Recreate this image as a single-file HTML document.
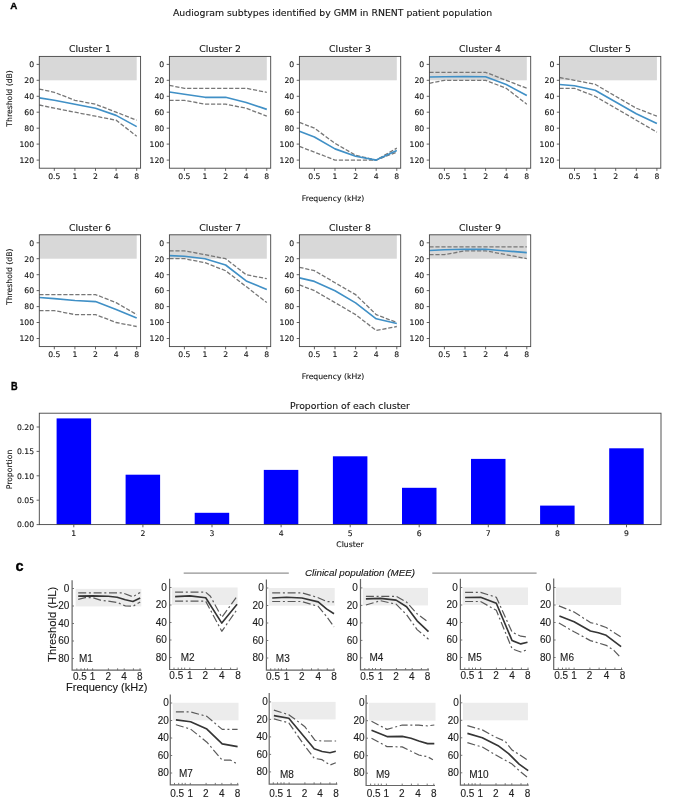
<!DOCTYPE html>
<html lang="en"><head><meta charset="utf-8"><title>Audiogram subtypes</title>
<style>html,body{margin:0;padding:0;background:#fff}svg{display:block}</style></head><body>
<svg width="685" height="803" viewBox="0 0 685 803">
<defs><filter id="soft" x="0" y="0" width="685" height="803" filterUnits="userSpaceOnUse"><feGaussianBlur stdDeviation="0.65"/></filter></defs>
<rect width="685" height="803" fill="#fff"/>
<g filter="url(#soft)">
<text x="10.3" y="8.9" font-family='"Liberation Sans", "DejaVu Sans", sans-serif' font-weight="bold" font-size="9.8" fill="#000" stroke="#000" stroke-width="0.35">A</text>
<text x="332.6" y="15.6" text-anchor="middle" font-family='"DejaVu Sans", "Liberation Sans", sans-serif' font-size="9.33" fill="#151515" stroke="#151515" stroke-width="0.12">Audiogram subtypes identified by GMM in RNENT patient population</text>
<g>
<rect x="39.3" y="56.4" width="97.4" height="23.9" fill="#d8d8d8"/>
<polyline points="39.3,89.1 54.3,92.3 74.9,100.3 95.5,104.2 116.1,112.2 136.7,120.2" fill="none" stroke="#777" stroke-width="1.3" stroke-dasharray="4.2 1.8"/>
<polyline points="39.3,105.0 54.3,108.2 74.9,112.2 95.5,116.2 116.1,120.2 136.7,136.2" fill="none" stroke="#777" stroke-width="1.3" stroke-dasharray="4.2 1.8"/>
<polyline points="39.3,97.9 54.3,100.3 74.9,104.2 95.5,108.2 116.1,115.4 136.7,126.6" fill="none" stroke="#4090c6" stroke-width="1.65" stroke-linejoin="round"/>
<rect x="39.3" y="56.4" width="101.3" height="111.8" fill="none" stroke="#444" stroke-width="0.9"/>
<path d="M39.3 64.4h-2.7M39.3 80.3h-2.7M39.3 96.3h-2.7M39.3 112.2h-2.7M39.3 128.2h-2.7M39.3 144.1h-2.7M39.3 160.1h-2.7M54.3 168.2v2.7M74.9 168.2v2.7M95.5 168.2v2.7M116.1 168.2v2.7M136.7 168.2v2.7" stroke="#444" stroke-width="0.85" fill="none"/>
<g font-family='"DejaVu Sans", "Liberation Sans", sans-serif' font-size="7.7" fill="#151515" stroke="#151515" stroke-width="0.12">
<text x="34.1" y="67.2" text-anchor="end">0</text>
<text x="34.1" y="83.1" text-anchor="end">20</text>
<text x="34.1" y="99.1" text-anchor="end">40</text>
<text x="34.1" y="115.0" text-anchor="end">60</text>
<text x="34.1" y="131.0" text-anchor="end">80</text>
<text x="34.1" y="146.9" text-anchor="end">100</text>
<text x="34.1" y="162.9" text-anchor="end">120</text>
<text x="54.3" y="179.0" text-anchor="middle">0.5</text>
<text x="74.9" y="179.0" text-anchor="middle">1</text>
<text x="95.5" y="179.0" text-anchor="middle">2</text>
<text x="116.1" y="179.0" text-anchor="middle">4</text>
<text x="136.7" y="179.0" text-anchor="middle">8</text>
</g>
<text x="89.9" y="52.2" text-anchor="middle" font-family='"DejaVu Sans", "Liberation Sans", sans-serif' font-size="9.3" fill="#151515" stroke="#151515" stroke-width="0.12">Cluster 1</text>
<text transform="translate(12.2 98.4) rotate(-90)" text-anchor="middle" font-family='"DejaVu Sans", "Liberation Sans", sans-serif' font-size="7.7" fill="#151515" stroke="#151515" stroke-width="0.12">Threshold (dB)</text>
</g>
<g>
<rect x="169.4" y="56.4" width="97.4" height="23.9" fill="#d8d8d8"/>
<polyline points="169.4,85.4 184.4,88.3 205.0,88.3 225.6,88.3 246.2,88.3 266.8,92.3" fill="none" stroke="#777" stroke-width="1.3" stroke-dasharray="4.2 1.8"/>
<polyline points="169.4,100.3 184.4,100.3 205.0,104.2 225.6,104.2 246.2,108.2 266.8,116.2" fill="none" stroke="#777" stroke-width="1.3" stroke-dasharray="4.2 1.8"/>
<polyline points="169.4,92.0 184.4,94.3 205.0,97.3 225.6,97.3 246.2,102.5 266.8,109.4" fill="none" stroke="#4090c6" stroke-width="1.65" stroke-linejoin="round"/>
<rect x="169.4" y="56.4" width="101.3" height="111.8" fill="none" stroke="#444" stroke-width="0.9"/>
<path d="M169.4 64.4h-2.7M169.4 80.3h-2.7M169.4 96.3h-2.7M169.4 112.2h-2.7M169.4 128.2h-2.7M169.4 144.1h-2.7M169.4 160.1h-2.7M184.4 168.2v2.7M205.0 168.2v2.7M225.6 168.2v2.7M246.2 168.2v2.7M266.8 168.2v2.7" stroke="#444" stroke-width="0.85" fill="none"/>
<g font-family='"DejaVu Sans", "Liberation Sans", sans-serif' font-size="7.7" fill="#151515" stroke="#151515" stroke-width="0.12">
<text x="164.2" y="67.2" text-anchor="end">0</text>
<text x="164.2" y="83.1" text-anchor="end">20</text>
<text x="164.2" y="99.1" text-anchor="end">40</text>
<text x="164.2" y="115.0" text-anchor="end">60</text>
<text x="164.2" y="131.0" text-anchor="end">80</text>
<text x="164.2" y="146.9" text-anchor="end">100</text>
<text x="164.2" y="162.9" text-anchor="end">120</text>
<text x="184.4" y="179.0" text-anchor="middle">0.5</text>
<text x="205.0" y="179.0" text-anchor="middle">1</text>
<text x="225.6" y="179.0" text-anchor="middle">2</text>
<text x="246.2" y="179.0" text-anchor="middle">4</text>
<text x="266.8" y="179.0" text-anchor="middle">8</text>
</g>
<text x="220.1" y="52.2" text-anchor="middle" font-family='"DejaVu Sans", "Liberation Sans", sans-serif' font-size="9.3" fill="#151515" stroke="#151515" stroke-width="0.12">Cluster 2</text>
</g>
<g>
<rect x="299.4" y="56.4" width="97.4" height="23.9" fill="#d8d8d8"/>
<polyline points="299.4,122.4 314.4,128.2 335.0,143.3 355.6,155.3 376.2,160.1 396.8,148.1" fill="none" stroke="#777" stroke-width="1.3" stroke-dasharray="4.2 1.8"/>
<polyline points="299.4,146.4 314.4,152.1 335.0,160.1 355.6,160.1 376.2,160.1 396.8,152.1" fill="none" stroke="#777" stroke-width="1.3" stroke-dasharray="4.2 1.8"/>
<polyline points="299.4,131.2 314.4,137.0 335.0,148.9 355.6,156.3 376.2,160.1 396.8,150.5" fill="none" stroke="#4090c6" stroke-width="1.65" stroke-linejoin="round"/>
<rect x="299.4" y="56.4" width="101.3" height="111.8" fill="none" stroke="#444" stroke-width="0.9"/>
<path d="M299.4 64.4h-2.7M299.4 80.3h-2.7M299.4 96.3h-2.7M299.4 112.2h-2.7M299.4 128.2h-2.7M299.4 144.1h-2.7M299.4 160.1h-2.7M314.4 168.2v2.7M335.0 168.2v2.7M355.6 168.2v2.7M376.2 168.2v2.7M396.8 168.2v2.7" stroke="#444" stroke-width="0.85" fill="none"/>
<g font-family='"DejaVu Sans", "Liberation Sans", sans-serif' font-size="7.7" fill="#151515" stroke="#151515" stroke-width="0.12">
<text x="294.2" y="67.2" text-anchor="end">0</text>
<text x="294.2" y="83.1" text-anchor="end">20</text>
<text x="294.2" y="99.1" text-anchor="end">40</text>
<text x="294.2" y="115.0" text-anchor="end">60</text>
<text x="294.2" y="131.0" text-anchor="end">80</text>
<text x="294.2" y="146.9" text-anchor="end">100</text>
<text x="294.2" y="162.9" text-anchor="end">120</text>
<text x="314.4" y="179.0" text-anchor="middle">0.5</text>
<text x="335.0" y="179.0" text-anchor="middle">1</text>
<text x="355.6" y="179.0" text-anchor="middle">2</text>
<text x="376.2" y="179.0" text-anchor="middle">4</text>
<text x="396.8" y="179.0" text-anchor="middle">8</text>
</g>
<text x="350.0" y="52.2" text-anchor="middle" font-family='"DejaVu Sans", "Liberation Sans", sans-serif' font-size="9.3" fill="#151515" stroke="#151515" stroke-width="0.12">Cluster 3</text>
<text x="333" y="200.7" text-anchor="middle" font-family='"DejaVu Sans", "Liberation Sans", sans-serif' font-size="7.7" fill="#151515" stroke="#151515" stroke-width="0.12">Frequency (kHz)</text>
</g>
<g>
<rect x="429.4" y="56.4" width="97.4" height="23.9" fill="#d8d8d8"/>
<polyline points="429.4,72.3 444.4,72.3 465.0,72.3 485.6,72.3 506.2,80.3 526.8,88.3" fill="none" stroke="#777" stroke-width="1.3" stroke-dasharray="4.2 1.8"/>
<polyline points="429.4,83.3 444.4,80.3 465.0,80.3 485.6,80.3 506.2,88.3 526.8,104.2" fill="none" stroke="#777" stroke-width="1.3" stroke-dasharray="4.2 1.8"/>
<polyline points="429.4,77.0 444.4,76.7 465.0,76.6 485.6,76.7 506.2,84.5 526.8,95.5" fill="none" stroke="#4090c6" stroke-width="1.65" stroke-linejoin="round"/>
<rect x="429.4" y="56.4" width="101.3" height="111.8" fill="none" stroke="#444" stroke-width="0.9"/>
<path d="M429.4 64.4h-2.7M429.4 80.3h-2.7M429.4 96.3h-2.7M429.4 112.2h-2.7M429.4 128.2h-2.7M429.4 144.1h-2.7M429.4 160.1h-2.7M444.4 168.2v2.7M465.0 168.2v2.7M485.6 168.2v2.7M506.2 168.2v2.7M526.8 168.2v2.7" stroke="#444" stroke-width="0.85" fill="none"/>
<g font-family='"DejaVu Sans", "Liberation Sans", sans-serif' font-size="7.7" fill="#151515" stroke="#151515" stroke-width="0.12">
<text x="424.2" y="67.2" text-anchor="end">0</text>
<text x="424.2" y="83.1" text-anchor="end">20</text>
<text x="424.2" y="99.1" text-anchor="end">40</text>
<text x="424.2" y="115.0" text-anchor="end">60</text>
<text x="424.2" y="131.0" text-anchor="end">80</text>
<text x="424.2" y="146.9" text-anchor="end">100</text>
<text x="424.2" y="162.9" text-anchor="end">120</text>
<text x="444.4" y="179.0" text-anchor="middle">0.5</text>
<text x="465.0" y="179.0" text-anchor="middle">1</text>
<text x="485.6" y="179.0" text-anchor="middle">2</text>
<text x="506.2" y="179.0" text-anchor="middle">4</text>
<text x="526.8" y="179.0" text-anchor="middle">8</text>
</g>
<text x="480.0" y="52.2" text-anchor="middle" font-family='"DejaVu Sans", "Liberation Sans", sans-serif' font-size="9.3" fill="#151515" stroke="#151515" stroke-width="0.12">Cluster 4</text>
</g>
<g>
<rect x="559.5" y="56.4" width="97.4" height="23.9" fill="#d8d8d8"/>
<polyline points="559.5,77.5 574.5,80.3 595.1,84.3 615.7,96.3 636.3,108.2 656.9,116.2" fill="none" stroke="#777" stroke-width="1.3" stroke-dasharray="4.2 1.8"/>
<polyline points="559.5,88.3 574.5,88.3 595.1,96.3 615.7,108.2 636.3,120.2 656.9,132.2" fill="none" stroke="#777" stroke-width="1.3" stroke-dasharray="4.2 1.8"/>
<polyline points="559.5,84.5 574.5,85.7 595.1,90.3 615.7,102.0 636.3,113.7 656.9,123.5" fill="none" stroke="#4090c6" stroke-width="1.65" stroke-linejoin="round"/>
<rect x="559.5" y="56.4" width="101.3" height="111.8" fill="none" stroke="#444" stroke-width="0.9"/>
<path d="M559.5 64.4h-2.7M559.5 80.3h-2.7M559.5 96.3h-2.7M559.5 112.2h-2.7M559.5 128.2h-2.7M559.5 144.1h-2.7M559.5 160.1h-2.7M574.5 168.2v2.7M595.1 168.2v2.7M615.7 168.2v2.7M636.3 168.2v2.7M656.9 168.2v2.7" stroke="#444" stroke-width="0.85" fill="none"/>
<g font-family='"DejaVu Sans", "Liberation Sans", sans-serif' font-size="7.7" fill="#151515" stroke="#151515" stroke-width="0.12">
<text x="554.3" y="67.2" text-anchor="end">0</text>
<text x="554.3" y="83.1" text-anchor="end">20</text>
<text x="554.3" y="99.1" text-anchor="end">40</text>
<text x="554.3" y="115.0" text-anchor="end">60</text>
<text x="554.3" y="131.0" text-anchor="end">80</text>
<text x="554.3" y="146.9" text-anchor="end">100</text>
<text x="554.3" y="162.9" text-anchor="end">120</text>
<text x="574.5" y="179.0" text-anchor="middle">0.5</text>
<text x="595.1" y="179.0" text-anchor="middle">1</text>
<text x="615.7" y="179.0" text-anchor="middle">2</text>
<text x="636.3" y="179.0" text-anchor="middle">4</text>
<text x="656.9" y="179.0" text-anchor="middle">8</text>
</g>
<text x="610.1" y="52.2" text-anchor="middle" font-family='"DejaVu Sans", "Liberation Sans", sans-serif' font-size="9.3" fill="#151515" stroke="#151515" stroke-width="0.12">Cluster 5</text>
</g>
<g>
<rect x="39.3" y="234.8" width="97.4" height="23.9" fill="#d8d8d8"/>
<polyline points="39.3,294.6 54.3,294.6 74.9,294.6 95.5,294.6 116.1,302.6 136.7,314.6" fill="none" stroke="#777" stroke-width="1.3" stroke-dasharray="4.2 1.8"/>
<polyline points="39.3,310.6 54.3,310.6 74.9,314.6 95.5,314.6 116.1,322.5 136.7,326.5" fill="none" stroke="#777" stroke-width="1.3" stroke-dasharray="4.2 1.8"/>
<polyline points="39.3,297.5 54.3,298.6 74.9,300.5 95.5,301.6 116.1,309.4 136.7,318.0" fill="none" stroke="#4090c6" stroke-width="1.65" stroke-linejoin="round"/>
<rect x="39.3" y="234.8" width="101.3" height="111.8" fill="none" stroke="#444" stroke-width="0.9"/>
<path d="M39.3 242.8h-2.7M39.3 258.7h-2.7M39.3 274.7h-2.7M39.3 290.6h-2.7M39.3 306.6h-2.7M39.3 322.5h-2.7M39.3 338.5h-2.7M54.3 346.6v2.7M74.9 346.6v2.7M95.5 346.6v2.7M116.1 346.6v2.7M136.7 346.6v2.7" stroke="#444" stroke-width="0.85" fill="none"/>
<g font-family='"DejaVu Sans", "Liberation Sans", sans-serif' font-size="7.7" fill="#151515" stroke="#151515" stroke-width="0.12">
<text x="34.1" y="245.6" text-anchor="end">0</text>
<text x="34.1" y="261.5" text-anchor="end">20</text>
<text x="34.1" y="277.5" text-anchor="end">40</text>
<text x="34.1" y="293.4" text-anchor="end">60</text>
<text x="34.1" y="309.4" text-anchor="end">80</text>
<text x="34.1" y="325.3" text-anchor="end">100</text>
<text x="34.1" y="341.3" text-anchor="end">120</text>
<text x="54.3" y="357.4" text-anchor="middle">0.5</text>
<text x="74.9" y="357.4" text-anchor="middle">1</text>
<text x="95.5" y="357.4" text-anchor="middle">2</text>
<text x="116.1" y="357.4" text-anchor="middle">4</text>
<text x="136.7" y="357.4" text-anchor="middle">8</text>
</g>
<text x="89.9" y="230.6" text-anchor="middle" font-family='"DejaVu Sans", "Liberation Sans", sans-serif' font-size="9.3" fill="#151515" stroke="#151515" stroke-width="0.12">Cluster 6</text>
<text transform="translate(12.2 276.8) rotate(-90)" text-anchor="middle" font-family='"DejaVu Sans", "Liberation Sans", sans-serif' font-size="7.7" fill="#151515" stroke="#151515" stroke-width="0.12">Threshold (dB)</text>
</g>
<g>
<rect x="169.4" y="234.8" width="97.4" height="23.9" fill="#d8d8d8"/>
<polyline points="169.4,250.8 184.4,250.8 205.0,254.7 225.6,258.7 246.2,274.7 266.8,278.7" fill="none" stroke="#777" stroke-width="1.3" stroke-dasharray="4.2 1.8"/>
<polyline points="169.4,258.7 184.4,258.7 205.0,262.7 225.6,270.7 246.2,286.6 266.8,302.6" fill="none" stroke="#777" stroke-width="1.3" stroke-dasharray="4.2 1.8"/>
<polyline points="169.4,255.6 184.4,256.3 205.0,258.7 225.6,265.0 246.2,280.9 266.8,289.6" fill="none" stroke="#4090c6" stroke-width="1.65" stroke-linejoin="round"/>
<rect x="169.4" y="234.8" width="101.3" height="111.8" fill="none" stroke="#444" stroke-width="0.9"/>
<path d="M169.4 242.8h-2.7M169.4 258.7h-2.7M169.4 274.7h-2.7M169.4 290.6h-2.7M169.4 306.6h-2.7M169.4 322.5h-2.7M169.4 338.5h-2.7M184.4 346.6v2.7M205.0 346.6v2.7M225.6 346.6v2.7M246.2 346.6v2.7M266.8 346.6v2.7" stroke="#444" stroke-width="0.85" fill="none"/>
<g font-family='"DejaVu Sans", "Liberation Sans", sans-serif' font-size="7.7" fill="#151515" stroke="#151515" stroke-width="0.12">
<text x="164.2" y="245.6" text-anchor="end">0</text>
<text x="164.2" y="261.5" text-anchor="end">20</text>
<text x="164.2" y="277.5" text-anchor="end">40</text>
<text x="164.2" y="293.4" text-anchor="end">60</text>
<text x="164.2" y="309.4" text-anchor="end">80</text>
<text x="164.2" y="325.3" text-anchor="end">100</text>
<text x="164.2" y="341.3" text-anchor="end">120</text>
<text x="184.4" y="357.4" text-anchor="middle">0.5</text>
<text x="205.0" y="357.4" text-anchor="middle">1</text>
<text x="225.6" y="357.4" text-anchor="middle">2</text>
<text x="246.2" y="357.4" text-anchor="middle">4</text>
<text x="266.8" y="357.4" text-anchor="middle">8</text>
</g>
<text x="220.1" y="230.6" text-anchor="middle" font-family='"DejaVu Sans", "Liberation Sans", sans-serif' font-size="9.3" fill="#151515" stroke="#151515" stroke-width="0.12">Cluster 7</text>
</g>
<g>
<rect x="299.4" y="234.8" width="97.4" height="23.9" fill="#d8d8d8"/>
<polyline points="299.4,267.3 314.4,270.7 335.0,282.7 355.6,294.6 376.2,314.6 396.8,322.5" fill="none" stroke="#777" stroke-width="1.3" stroke-dasharray="4.2 1.8"/>
<polyline points="299.4,284.9 314.4,290.6 335.0,302.6 355.6,314.6 376.2,330.5 396.8,326.5" fill="none" stroke="#777" stroke-width="1.3" stroke-dasharray="4.2 1.8"/>
<polyline points="299.4,277.9 314.4,281.4 335.0,290.7 355.6,302.9 376.2,318.8 396.8,323.5" fill="none" stroke="#4090c6" stroke-width="1.65" stroke-linejoin="round"/>
<rect x="299.4" y="234.8" width="101.3" height="111.8" fill="none" stroke="#444" stroke-width="0.9"/>
<path d="M299.4 242.8h-2.7M299.4 258.7h-2.7M299.4 274.7h-2.7M299.4 290.6h-2.7M299.4 306.6h-2.7M299.4 322.5h-2.7M299.4 338.5h-2.7M314.4 346.6v2.7M335.0 346.6v2.7M355.6 346.6v2.7M376.2 346.6v2.7M396.8 346.6v2.7" stroke="#444" stroke-width="0.85" fill="none"/>
<g font-family='"DejaVu Sans", "Liberation Sans", sans-serif' font-size="7.7" fill="#151515" stroke="#151515" stroke-width="0.12">
<text x="294.2" y="245.6" text-anchor="end">0</text>
<text x="294.2" y="261.5" text-anchor="end">20</text>
<text x="294.2" y="277.5" text-anchor="end">40</text>
<text x="294.2" y="293.4" text-anchor="end">60</text>
<text x="294.2" y="309.4" text-anchor="end">80</text>
<text x="294.2" y="325.3" text-anchor="end">100</text>
<text x="294.2" y="341.3" text-anchor="end">120</text>
<text x="314.4" y="357.4" text-anchor="middle">0.5</text>
<text x="335.0" y="357.4" text-anchor="middle">1</text>
<text x="355.6" y="357.4" text-anchor="middle">2</text>
<text x="376.2" y="357.4" text-anchor="middle">4</text>
<text x="396.8" y="357.4" text-anchor="middle">8</text>
</g>
<text x="350.0" y="230.6" text-anchor="middle" font-family='"DejaVu Sans", "Liberation Sans", sans-serif' font-size="9.3" fill="#151515" stroke="#151515" stroke-width="0.12">Cluster 8</text>
<text x="333" y="379.1" text-anchor="middle" font-family='"DejaVu Sans", "Liberation Sans", sans-serif' font-size="7.7" fill="#151515" stroke="#151515" stroke-width="0.12">Frequency (kHz)</text>
</g>
<g>
<rect x="429.4" y="234.8" width="97.4" height="23.9" fill="#d8d8d8"/>
<polyline points="429.4,246.8 444.4,246.8 465.0,246.8 485.6,246.8 506.2,246.8 526.8,246.8" fill="none" stroke="#777" stroke-width="1.3" stroke-dasharray="4.2 1.8"/>
<polyline points="429.4,254.7 444.4,254.7 465.0,250.8 485.6,250.8 506.2,254.7 526.8,258.7" fill="none" stroke="#777" stroke-width="1.3" stroke-dasharray="4.2 1.8"/>
<polyline points="429.4,250.5 444.4,249.8 465.0,249.3 485.6,249.3 506.2,251.0 526.8,252.6" fill="none" stroke="#4090c6" stroke-width="1.65" stroke-linejoin="round"/>
<rect x="429.4" y="234.8" width="101.3" height="111.8" fill="none" stroke="#444" stroke-width="0.9"/>
<path d="M429.4 242.8h-2.7M429.4 258.7h-2.7M429.4 274.7h-2.7M429.4 290.6h-2.7M429.4 306.6h-2.7M429.4 322.5h-2.7M429.4 338.5h-2.7M444.4 346.6v2.7M465.0 346.6v2.7M485.6 346.6v2.7M506.2 346.6v2.7M526.8 346.6v2.7" stroke="#444" stroke-width="0.85" fill="none"/>
<g font-family='"DejaVu Sans", "Liberation Sans", sans-serif' font-size="7.7" fill="#151515" stroke="#151515" stroke-width="0.12">
<text x="424.2" y="245.6" text-anchor="end">0</text>
<text x="424.2" y="261.5" text-anchor="end">20</text>
<text x="424.2" y="277.5" text-anchor="end">40</text>
<text x="424.2" y="293.4" text-anchor="end">60</text>
<text x="424.2" y="309.4" text-anchor="end">80</text>
<text x="424.2" y="325.3" text-anchor="end">100</text>
<text x="424.2" y="341.3" text-anchor="end">120</text>
<text x="444.4" y="357.4" text-anchor="middle">0.5</text>
<text x="465.0" y="357.4" text-anchor="middle">1</text>
<text x="485.6" y="357.4" text-anchor="middle">2</text>
<text x="506.2" y="357.4" text-anchor="middle">4</text>
<text x="526.8" y="357.4" text-anchor="middle">8</text>
</g>
<text x="480.0" y="230.6" text-anchor="middle" font-family='"DejaVu Sans", "Liberation Sans", sans-serif' font-size="9.3" fill="#151515" stroke="#151515" stroke-width="0.12">Cluster 9</text>
</g>
<text transform="translate(10.9 389.8) scale(0.9 1)" font-family='"Liberation Sans", "DejaVu Sans", sans-serif' font-weight="bold" font-size="10.2" fill="#000" stroke="#000" stroke-width="0.35">B</text>
<g>
<rect x="56.6" y="418.4" width="34.5" height="106.2" fill="#0000fe"/>
<rect x="125.6" y="474.7" width="34.5" height="49.9" fill="#0000fe"/>
<rect x="194.7" y="512.8" width="34.5" height="11.8" fill="#0000fe"/>
<rect x="263.8" y="469.9" width="34.5" height="54.7" fill="#0000fe"/>
<rect x="332.9" y="456.3" width="34.5" height="68.3" fill="#0000fe"/>
<rect x="402.0" y="487.8" width="34.5" height="36.8" fill="#0000fe"/>
<rect x="471.0" y="458.9" width="34.5" height="65.7" fill="#0000fe"/>
<rect x="540.1" y="505.6" width="34.5" height="19.0" fill="#0000fe"/>
<rect x="609.2" y="448.3" width="34.5" height="76.3" fill="#0000fe"/>
<rect x="39.3" y="413.2" width="621.7" height="111.4" fill="none" stroke="#444" stroke-width="0.9"/>
<path d="M73.8 524.6v2.7M142.9 524.6v2.7M212.0 524.6v2.7M281.1 524.6v2.7M350.2 524.6v2.7M419.2 524.6v2.7M488.3 524.6v2.7M557.4 524.6v2.7M626.5 524.6v2.7M39.3 524.6h-2.7M39.3 500.2h-2.7M39.3 475.8h-2.7M39.3 451.4h-2.7M39.3 427.0h-2.7" stroke="#444" stroke-width="0.85" fill="none"/>
<g font-family='"DejaVu Sans", "Liberation Sans", sans-serif' font-size="7.7" fill="#151515" stroke="#151515" stroke-width="0.12">
<text x="73.8" y="536.0" text-anchor="middle">1</text>
<text x="142.9" y="536.0" text-anchor="middle">2</text>
<text x="212.0" y="536.0" text-anchor="middle">3</text>
<text x="281.1" y="536.0" text-anchor="middle">4</text>
<text x="350.2" y="536.0" text-anchor="middle">5</text>
<text x="419.2" y="536.0" text-anchor="middle">6</text>
<text x="488.3" y="536.0" text-anchor="middle">7</text>
<text x="557.4" y="536.0" text-anchor="middle">8</text>
<text x="626.5" y="536.0" text-anchor="middle">9</text>
<text x="34.1" y="527.4" text-anchor="end">0.00</text>
<text x="34.1" y="503.0" text-anchor="end">0.05</text>
<text x="34.1" y="478.6" text-anchor="end">0.10</text>
<text x="34.1" y="454.2" text-anchor="end">0.15</text>
<text x="34.1" y="429.8" text-anchor="end">0.20</text>
<text x="350" y="546.7" text-anchor="middle">Cluster</text>
<text transform="translate(12.3 469.5) rotate(-90)" text-anchor="middle">Proportion</text>
</g>
<text x="350" y="408.6" text-anchor="middle" font-family='"DejaVu Sans", "Liberation Sans", sans-serif' font-size="9.3" fill="#151515" stroke="#151515" stroke-width="0.12">Proportion of each cluster</text>
</g>
<text x="15.6" y="570.5" font-family='"Liberation Sans", "DejaVu Sans", sans-serif' font-weight="bold" font-size="14.5" fill="#000" stroke="#000" stroke-width="0.3">c</text>
<path d="M183.7 573.1H288.8M432.3 573.1H536.6" stroke="#777" stroke-width="1" fill="none"/>
<text x="305" y="576.2" font-family='"Liberation Sans", "DejaVu Sans", sans-serif' font-style="italic" font-size="9.8" fill="#151515" stroke="#151515" stroke-width="0.12">Clinical population (MEE)</text>
<g>
<rect x="75.6" y="588.9" width="65.7" height="17.5" fill="#ececec"/>
<polyline points="78.2,592.8 122.3,592.8 132.9,596.8 140.2,592.4" fill="none" stroke="#5a5a5a" stroke-width="1.2" stroke-dasharray="8 2.7 2 2.7" stroke-linejoin="round"/>
<polyline points="78.2,599.4 85.2,597.7 92.6,597.7 100.4,600.1 117.1,602.4 125.3,605.9 132.9,606.3 140.2,601.9" fill="none" stroke="#5a5a5a" stroke-width="1.2" stroke-dasharray="8 2.7 2 2.7" stroke-linejoin="round"/>
<polyline points="78.2,596.1 92.6,595.9 108.3,596.3 117.1,597.2 125.3,599.8 132.9,601.5 140.2,598.0" fill="none" stroke="#353535" stroke-width="1.65" stroke-linejoin="round"/>
<path d="M72.1 580.2V670.2H141.3" fill="none" stroke="#666" stroke-width="1.2"/>
<path d="M72.1 588.5h1.9M72.1 606.0h1.9M72.1 623.5h1.9M72.1 641.0h1.9M72.1 658.5h1.9M76.8 670.2v-1.9M81.0 670.2v-1.9M84.5 670.2v-1.9M87.5 670.2v-1.9M92.6 670.2v-1.9M108.4 670.2v-1.9M117.6 670.2v-1.9M124.2 670.2v-1.9M133.4 670.2v-1.9M140.0 670.2v-1.9" stroke="#666" stroke-width="0.9" fill="none"/>
<g font-family='"Liberation Sans", "DejaVu Sans", sans-serif' font-size="10" fill="#1c1c1c" stroke="#1c1c1c" stroke-width="0.12">
<text x="69.4" y="591.7" text-anchor="end">0</text>
<text x="69.4" y="609.2" text-anchor="end">20</text>
<text x="69.4" y="626.7" text-anchor="end">40</text>
<text x="69.4" y="644.2" text-anchor="end">60</text>
<text x="69.4" y="661.7" text-anchor="end">80</text>
<text x="79.9" y="680.1" text-anchor="middle">0.5</text>
<text x="92.6" y="680.1" text-anchor="middle">1</text>
<text x="108.3" y="680.1" text-anchor="middle">2</text>
<text x="124.1" y="680.1" text-anchor="middle">4</text>
<text x="139.9" y="680.1" text-anchor="middle">8</text>
<text x="78.9" y="662.0">M1</text>
</g>
<text transform="translate(55.5 624.3) rotate(-90)" text-anchor="middle" font-family='"Liberation Sans", "DejaVu Sans", sans-serif' font-size="11.3" fill="#151515" stroke="#151515" stroke-width="0.12">Threshold (HL)</text>
<text x="106.7" y="690.6" text-anchor="middle" font-family='"Liberation Sans", "DejaVu Sans", sans-serif' font-size="11" fill="#151515" stroke="#151515" stroke-width="0.12">Frequency (kHz)</text>
</g>
<g>
<rect x="171.9" y="587.5" width="65.7" height="17.5" fill="#ececec"/>
<polyline points="175.1,592.2 205.7,592.2 210.4,596.3 221.8,617.3 237.1,596.3" fill="none" stroke="#5a5a5a" stroke-width="1.2" stroke-dasharray="8 2.7 2 2.7" stroke-linejoin="round"/>
<polyline points="175.1,601.2 205.7,601.2 221.8,631.3 237.1,609.4" fill="none" stroke="#5a5a5a" stroke-width="1.2" stroke-dasharray="8 2.7 2 2.7" stroke-linejoin="round"/>
<polyline points="175.1,596.6 189.8,595.9 205.7,597.7 221.8,623.1 237.1,604.2" fill="none" stroke="#353535" stroke-width="1.65" stroke-linejoin="round"/>
<path d="M169.6 578.8V669.5H237.6" fill="none" stroke="#666" stroke-width="1.2"/>
<path d="M169.6 587.5h1.9M169.6 605.0h1.9M169.6 622.5h1.9M169.6 640.0h1.9M169.6 657.5h1.9M174.0 669.5v-1.9M178.2 669.5v-1.9M181.7 669.5v-1.9M184.7 669.5v-1.9M189.8 669.5v-1.9M205.6 669.5v-1.9M214.8 669.5v-1.9M221.4 669.5v-1.9M230.6 669.5v-1.9M237.2 669.5v-1.9" stroke="#666" stroke-width="0.9" fill="none"/>
<g font-family='"Liberation Sans", "DejaVu Sans", sans-serif' font-size="10" fill="#1c1c1c" stroke="#1c1c1c" stroke-width="0.12">
<text x="166.9" y="590.7" text-anchor="end">0</text>
<text x="166.9" y="608.2" text-anchor="end">20</text>
<text x="166.9" y="625.7" text-anchor="end">40</text>
<text x="166.9" y="643.2" text-anchor="end">60</text>
<text x="166.9" y="660.7" text-anchor="end">80</text>
<text x="176.3" y="679.4" text-anchor="middle">0.5</text>
<text x="189.8" y="679.4" text-anchor="middle">1</text>
<text x="205.2" y="679.4" text-anchor="middle">2</text>
<text x="221.8" y="679.4" text-anchor="middle">4</text>
<text x="238.1" y="679.4" text-anchor="middle">8</text>
<text x="180.7" y="661.1">M2</text>
</g>
</g>
<g>
<rect x="268.7" y="588.0" width="66.0" height="17.6" fill="#ececec"/>
<polyline points="272.2,592.8 301.9,592.8 318.2,597.7 326.5,601.5 334.0,601.9" fill="none" stroke="#5a5a5a" stroke-width="1.2" stroke-dasharray="8 2.7 2 2.7" stroke-linejoin="round"/>
<polyline points="272.2,601.5 301.9,601.5 318.2,606.4 326.5,616.4 334.0,626.9" fill="none" stroke="#5a5a5a" stroke-width="1.2" stroke-dasharray="8 2.7 2 2.7" stroke-linejoin="round"/>
<polyline points="272.2,598.0 286.5,597.2 301.9,598.0 318.2,601.9 326.5,608.9 334.0,613.8" fill="none" stroke="#353535" stroke-width="1.65" stroke-linejoin="round"/>
<path d="M266.4 579.6V670.2H334.7" fill="none" stroke="#666" stroke-width="1.2"/>
<path d="M266.4 588.0h1.9M266.4 605.5h1.9M266.4 623.0h1.9M266.4 640.5h1.9M266.4 658.0h1.9M270.7 670.2v-1.9M274.9 670.2v-1.9M278.4 670.2v-1.9M281.4 670.2v-1.9M286.5 670.2v-1.9M302.3 670.2v-1.9M311.5 670.2v-1.9M318.1 670.2v-1.9M327.3 670.2v-1.9M333.9 670.2v-1.9" stroke="#666" stroke-width="0.9" fill="none"/>
<g font-family='"Liberation Sans", "DejaVu Sans", sans-serif' font-size="10" fill="#1c1c1c" stroke="#1c1c1c" stroke-width="0.12">
<text x="263.7" y="591.2" text-anchor="end">0</text>
<text x="263.7" y="608.7" text-anchor="end">20</text>
<text x="263.7" y="626.2" text-anchor="end">40</text>
<text x="263.7" y="643.7" text-anchor="end">60</text>
<text x="263.7" y="661.2" text-anchor="end">80</text>
<text x="273.0" y="680.1" text-anchor="middle">0.5</text>
<text x="286.5" y="680.1" text-anchor="middle">1</text>
<text x="301.9" y="680.1" text-anchor="middle">2</text>
<text x="318.2" y="680.1" text-anchor="middle">4</text>
<text x="334.0" y="680.1" text-anchor="middle">8</text>
<text x="275.8" y="662.0">M3</text>
</g>
</g>
<g>
<rect x="362.8" y="587.9" width="65.2" height="17.5" fill="#ececec"/>
<polyline points="365.9,596.3 396.1,596.3 406.6,602.1 417.1,613.8 427.6,621.7" fill="none" stroke="#5a5a5a" stroke-width="1.2" stroke-dasharray="8 2.7 2 2.7" stroke-linejoin="round"/>
<polyline points="365.9,605.0 380.6,600.7 396.1,604.2 406.6,614.7 417.1,629.6 428.5,639.2" fill="none" stroke="#5a5a5a" stroke-width="1.2" stroke-dasharray="8 2.7 2 2.7" stroke-linejoin="round"/>
<polyline points="365.9,598.9 380.6,598.4 396.1,600.1 406.6,606.8 417.1,620.8 428.5,631.7" fill="none" stroke="#353535" stroke-width="1.65" stroke-linejoin="round"/>
<path d="M360.5 579.0V669.9H429.0" fill="none" stroke="#666" stroke-width="1.2"/>
<path d="M360.5 587.9h1.9M360.5 605.4h1.9M360.5 622.9h1.9M360.5 640.4h1.9M360.5 657.9h1.9M364.8 669.9v-1.9M369.0 669.9v-1.9M372.5 669.9v-1.9M375.5 669.9v-1.9M380.6 669.9v-1.9M396.4 669.9v-1.9M405.6 669.9v-1.9M412.2 669.9v-1.9M421.4 669.9v-1.9M428.0 669.9v-1.9" stroke="#666" stroke-width="0.9" fill="none"/>
<g font-family='"Liberation Sans", "DejaVu Sans", sans-serif' font-size="10" fill="#1c1c1c" stroke="#1c1c1c" stroke-width="0.12">
<text x="357.8" y="591.1" text-anchor="end">0</text>
<text x="357.8" y="608.6" text-anchor="end">20</text>
<text x="357.8" y="626.1" text-anchor="end">40</text>
<text x="357.8" y="643.6" text-anchor="end">60</text>
<text x="357.8" y="661.1" text-anchor="end">80</text>
<text x="367.2" y="679.8" text-anchor="middle">0.5</text>
<text x="380.6" y="679.8" text-anchor="middle">1</text>
<text x="396.1" y="679.8" text-anchor="middle">2</text>
<text x="411.8" y="679.8" text-anchor="middle">4</text>
<text x="427.6" y="679.8" text-anchor="middle">8</text>
<text x="369.4" y="661.3">M4</text>
</g>
</g>
<g>
<rect x="462.7" y="587.5" width="65.3" height="17.5" fill="#ececec"/>
<polyline points="465.1,592.4 480.6,592.4 496.3,597.2 512.1,632.2 520.8,636.2 526.1,636.9" fill="none" stroke="#5a5a5a" stroke-width="1.2" stroke-dasharray="8 2.7 2 2.7" stroke-linejoin="round"/>
<polyline points="465.1,601.5 480.6,601.5 496.3,610.3 512.1,648.8 520.8,652.0 527.5,649.7" fill="none" stroke="#5a5a5a" stroke-width="1.2" stroke-dasharray="8 2.7 2 2.7" stroke-linejoin="round"/>
<polyline points="465.1,597.5 480.6,597.2 496.3,603.3 512.1,640.6 520.8,643.9 527.5,642.2" fill="none" stroke="#353535" stroke-width="1.65" stroke-linejoin="round"/>
<path d="M460.4 578.8V669.5H528.7" fill="none" stroke="#666" stroke-width="1.2"/>
<path d="M460.4 587.5h1.9M460.4 605.0h1.9M460.4 622.5h1.9M460.4 640.0h1.9M460.4 657.5h1.9M464.8 669.5v-1.9M469.0 669.5v-1.9M472.5 669.5v-1.9M475.5 669.5v-1.9M480.6 669.5v-1.9M496.4 669.5v-1.9M505.6 669.5v-1.9M512.2 669.5v-1.9M521.4 669.5v-1.9M528.0 669.5v-1.9" stroke="#666" stroke-width="0.9" fill="none"/>
<g font-family='"Liberation Sans", "DejaVu Sans", sans-serif' font-size="10" fill="#1c1c1c" stroke="#1c1c1c" stroke-width="0.12">
<text x="457.7" y="590.7" text-anchor="end">0</text>
<text x="457.7" y="608.2" text-anchor="end">20</text>
<text x="457.7" y="625.7" text-anchor="end">40</text>
<text x="457.7" y="643.2" text-anchor="end">60</text>
<text x="457.7" y="660.7" text-anchor="end">80</text>
<text x="467.4" y="679.4" text-anchor="middle">0.5</text>
<text x="480.6" y="679.4" text-anchor="middle">1</text>
<text x="496.0" y="679.4" text-anchor="middle">2</text>
<text x="512.1" y="679.4" text-anchor="middle">4</text>
<text x="527.9" y="679.4" text-anchor="middle">8</text>
<text x="467.8" y="661.1">M5</text>
</g>
</g>
<g>
<rect x="555.9" y="587.5" width="65.2" height="17.5" fill="#ececec"/>
<polyline points="558.9,605.9 574.1,612.0 590.4,622.6 596.6,624.0 606.2,627.5 621.1,637.1" fill="none" stroke="#5a5a5a" stroke-width="1.2" stroke-dasharray="8 2.7 2 2.7" stroke-linejoin="round"/>
<polyline points="558.9,623.1 574.1,631.8 590.4,640.6 606.2,645.3 614.1,650.6 621.1,658.1" fill="none" stroke="#5a5a5a" stroke-width="1.2" stroke-dasharray="8 2.7 2 2.7" stroke-linejoin="round"/>
<polyline points="559.4,616.1 574.1,621.7 590.4,631.0 598.3,632.7 606.2,635.3 621.1,646.6" fill="none" stroke="#353535" stroke-width="1.65" stroke-linejoin="round"/>
<path d="M553.7 578.4V669.5H622.5" fill="none" stroke="#666" stroke-width="1.2"/>
<path d="M553.7 587.5h1.9M553.7 605.0h1.9M553.7 622.5h1.9M553.7 640.0h1.9M553.7 657.5h1.9M558.3 669.5v-1.9M562.5 669.5v-1.9M566.0 669.5v-1.9M569.0 669.5v-1.9M574.1 669.5v-1.9M589.9 669.5v-1.9M599.1 669.5v-1.9M605.7 669.5v-1.9M614.9 669.5v-1.9M621.5 669.5v-1.9" stroke="#666" stroke-width="0.9" fill="none"/>
<g font-family='"Liberation Sans", "DejaVu Sans", sans-serif' font-size="10" fill="#1c1c1c" stroke="#1c1c1c" stroke-width="0.12">
<text x="551.0" y="590.7" text-anchor="end">0</text>
<text x="551.0" y="608.2" text-anchor="end">20</text>
<text x="551.0" y="625.7" text-anchor="end">40</text>
<text x="551.0" y="643.2" text-anchor="end">60</text>
<text x="551.0" y="660.7" text-anchor="end">80</text>
<text x="561.2" y="679.4" text-anchor="middle">0.5</text>
<text x="574.1" y="679.4" text-anchor="middle">1</text>
<text x="589.6" y="679.4" text-anchor="middle">2</text>
<text x="606.6" y="679.4" text-anchor="middle">4</text>
<text x="622.5" y="679.4" text-anchor="middle">8</text>
<text x="560.1" y="661.1">M6</text>
</g>
</g>
<g>
<rect x="172.8" y="702.8" width="65.7" height="17.5" fill="#ececec"/>
<polyline points="175.9,711.9 190.6,711.9 206.9,716.4 222.2,729.4 237.6,729.4" fill="none" stroke="#5a5a5a" stroke-width="1.2" stroke-dasharray="8 2.7 2 2.7" stroke-linejoin="round"/>
<polyline points="175.9,724.7 190.6,729.1 206.9,742.2 222.2,760.2 230.6,760.2 237.6,764.1" fill="none" stroke="#5a5a5a" stroke-width="1.2" stroke-dasharray="8 2.7 2 2.7" stroke-linejoin="round"/>
<polyline points="175.9,719.9 190.6,721.7 206.9,729.1 222.2,743.9 237.6,746.6" fill="none" stroke="#353535" stroke-width="1.65" stroke-linejoin="round"/>
<path d="M170.3 694.4V784.8H238.5" fill="none" stroke="#666" stroke-width="1.2"/>
<path d="M170.3 703.0h1.9M170.3 720.5h1.9M170.3 738.0h1.9M170.3 755.5h1.9M170.3 773.0h1.9M174.5 784.8v-1.9M178.7 784.8v-1.9M182.2 784.8v-1.9M185.2 784.8v-1.9M190.3 784.8v-1.9M206.1 784.8v-1.9M215.3 784.8v-1.9M221.9 784.8v-1.9M231.1 784.8v-1.9M237.7 784.8v-1.9" stroke="#666" stroke-width="0.9" fill="none"/>
<g font-family='"Liberation Sans", "DejaVu Sans", sans-serif' font-size="10" fill="#1c1c1c" stroke="#1c1c1c" stroke-width="0.12">
<text x="168.8" y="706.2" text-anchor="end">0</text>
<text x="168.8" y="723.7" text-anchor="end">20</text>
<text x="168.8" y="741.2" text-anchor="end">40</text>
<text x="168.8" y="758.7" text-anchor="end">60</text>
<text x="168.8" y="776.2" text-anchor="end">80</text>
<text x="177.2" y="797.3" text-anchor="middle">0.5</text>
<text x="190.3" y="797.3" text-anchor="middle">1</text>
<text x="205.7" y="797.3" text-anchor="middle">2</text>
<text x="221.8" y="797.3" text-anchor="middle">4</text>
<text x="237.6" y="797.3" text-anchor="middle">8</text>
<text x="178.9" y="776.7">M7</text>
</g>
</g>
<g>
<rect x="271.6" y="701.9" width="64.0" height="17.5" fill="#ececec"/>
<polyline points="273.9,710.1 288.8,714.7 304.6,726.4 315.1,740.4 322.1,741.0 336.1,741.0" fill="none" stroke="#5a5a5a" stroke-width="1.2" stroke-dasharray="8 2.7 2 2.7" stroke-linejoin="round"/>
<polyline points="273.9,718.9 288.8,722.9 304.6,745.7 314.2,758.3 322.1,759.7 330.0,765.0 335.8,762.7" fill="none" stroke="#5a5a5a" stroke-width="1.2" stroke-dasharray="8 2.7 2 2.7" stroke-linejoin="round"/>
<polyline points="273.9,715.6 288.8,718.2 314.2,748.7 322.1,751.5 330.0,752.7 335.8,751.3" fill="none" stroke="#353535" stroke-width="1.65" stroke-linejoin="round"/>
<path d="M269.2 693.1V784.2H337.3" fill="none" stroke="#666" stroke-width="1.2"/>
<path d="M269.2 701.9h1.9M269.2 719.4h1.9M269.2 736.9h1.9M269.2 754.4h1.9M269.2 771.9h1.9M273.3 784.2v-1.9M277.5 784.2v-1.9M281.0 784.2v-1.9M284.0 784.2v-1.9M289.1 784.2v-1.9M304.9 784.2v-1.9M314.1 784.2v-1.9M320.7 784.2v-1.9M329.9 784.2v-1.9M336.5 784.2v-1.9" stroke="#666" stroke-width="0.9" fill="none"/>
<g font-family='"Liberation Sans", "DejaVu Sans", sans-serif' font-size="10" fill="#1c1c1c" stroke="#1c1c1c" stroke-width="0.12">
<text x="267.7" y="705.1" text-anchor="end">0</text>
<text x="267.7" y="722.6" text-anchor="end">20</text>
<text x="267.7" y="740.1" text-anchor="end">40</text>
<text x="267.7" y="757.6" text-anchor="end">60</text>
<text x="267.7" y="775.1" text-anchor="end">80</text>
<text x="276.2" y="797.3" text-anchor="middle">0.5</text>
<text x="289.1" y="797.3" text-anchor="middle">1</text>
<text x="304.6" y="797.3" text-anchor="middle">2</text>
<text x="320.0" y="797.3" text-anchor="middle">4</text>
<text x="336.1" y="797.3" text-anchor="middle">8</text>
<text x="280.0" y="777.8">M8</text>
</g>
</g>
<g>
<rect x="368.9" y="702.8" width="66.6" height="17.8" fill="#ececec"/>
<polyline points="371.5,721.2 387.0,729.4 402.2,725.0 418.8,725.2 427.6,725.9 434.3,725.0" fill="none" stroke="#5a5a5a" stroke-width="1.2" stroke-dasharray="8 2.7 2 2.7" stroke-linejoin="round"/>
<polyline points="371.5,738.2 387.0,746.6 402.2,746.9 418.8,755.0 427.6,756.7 432.9,759.7" fill="none" stroke="#5a5a5a" stroke-width="1.2" stroke-dasharray="8 2.7 2 2.7" stroke-linejoin="round"/>
<polyline points="371.5,730.3 387.0,736.6 402.2,736.4 411.0,738.2 418.8,741.0 427.6,743.6 434.3,743.6" fill="none" stroke="#353535" stroke-width="1.65" stroke-linejoin="round"/>
<path d="M366.1 694.9V785.5H435.0" fill="none" stroke="#666" stroke-width="1.2"/>
<path d="M366.1 703.2h1.9M366.1 720.7h1.9M366.1 738.2h1.9M366.1 755.7h1.9M366.1 773.2h1.9M370.6 785.5v-1.9M374.8 785.5v-1.9M378.3 785.5v-1.9M381.3 785.5v-1.9M386.4 785.5v-1.9M402.2 785.5v-1.9M411.4 785.5v-1.9M418.0 785.5v-1.9M427.2 785.5v-1.9M433.8 785.5v-1.9" stroke="#666" stroke-width="0.9" fill="none"/>
<g font-family='"Liberation Sans", "DejaVu Sans", sans-serif' font-size="10" fill="#1c1c1c" stroke="#1c1c1c" stroke-width="0.12">
<text x="364.6" y="706.4" text-anchor="end">0</text>
<text x="364.6" y="723.9" text-anchor="end">20</text>
<text x="364.6" y="741.4" text-anchor="end">40</text>
<text x="364.6" y="758.9" text-anchor="end">60</text>
<text x="364.6" y="776.4" text-anchor="end">80</text>
<text x="373.6" y="797.3" text-anchor="middle">0.5</text>
<text x="386.4" y="797.3" text-anchor="middle">1</text>
<text x="401.8" y="797.3" text-anchor="middle">2</text>
<text x="418.0" y="797.3" text-anchor="middle">4</text>
<text x="433.7" y="797.3" text-anchor="middle">8</text>
<text x="375.9" y="777.8">M9</text>
</g>
</g>
<g>
<rect x="463.0" y="702.8" width="64.9" height="17.5" fill="#ececec"/>
<polyline points="467.4,725.6 482.3,729.9 496.3,737.5 505.1,741.3 512.1,750.1 519.1,754.5 527.9,760.2" fill="none" stroke="#5a5a5a" stroke-width="1.2" stroke-dasharray="8 2.7 2 2.7" stroke-linejoin="round"/>
<polyline points="467.4,742.7 482.3,747.1 496.3,755.3 512.1,764.1 520.8,772.0 527.9,777.8" fill="none" stroke="#5a5a5a" stroke-width="1.2" stroke-dasharray="8 2.7 2 2.7" stroke-linejoin="round"/>
<polyline points="467.4,733.4 482.3,737.8 498.1,745.7 508.6,753.6 519.1,764.1 528.2,770.6" fill="none" stroke="#353535" stroke-width="1.65" stroke-linejoin="round"/>
<path d="M460.4 694.4V785.1H528.7" fill="none" stroke="#666" stroke-width="1.2"/>
<path d="M460.4 702.8h1.9M460.4 720.3h1.9M460.4 737.8h1.9M460.4 755.3h1.9M460.4 772.8h1.9M464.4 785.1v-1.9M468.6 785.1v-1.9M472.1 785.1v-1.9M475.1 785.1v-1.9M480.2 785.1v-1.9M496.0 785.1v-1.9M505.2 785.1v-1.9M511.8 785.1v-1.9M521.0 785.1v-1.9M527.6 785.1v-1.9" stroke="#666" stroke-width="0.9" fill="none"/>
<g font-family='"Liberation Sans", "DejaVu Sans", sans-serif' font-size="10" fill="#1c1c1c" stroke="#1c1c1c" stroke-width="0.12">
<text x="458.9" y="706.0" text-anchor="end">0</text>
<text x="458.9" y="723.5" text-anchor="end">20</text>
<text x="458.9" y="741.0" text-anchor="end">40</text>
<text x="458.9" y="758.5" text-anchor="end">60</text>
<text x="458.9" y="776.0" text-anchor="end">80</text>
<text x="467.4" y="797.3" text-anchor="middle">0.5</text>
<text x="480.2" y="797.3" text-anchor="middle">1</text>
<text x="495.8" y="797.3" text-anchor="middle">2</text>
<text x="511.6" y="797.3" text-anchor="middle">4</text>
<text x="527.5" y="797.3" text-anchor="middle">8</text>
<text x="469.2" y="777.8">M10</text>
</g>
</g>
</g>
</svg></body></html>
